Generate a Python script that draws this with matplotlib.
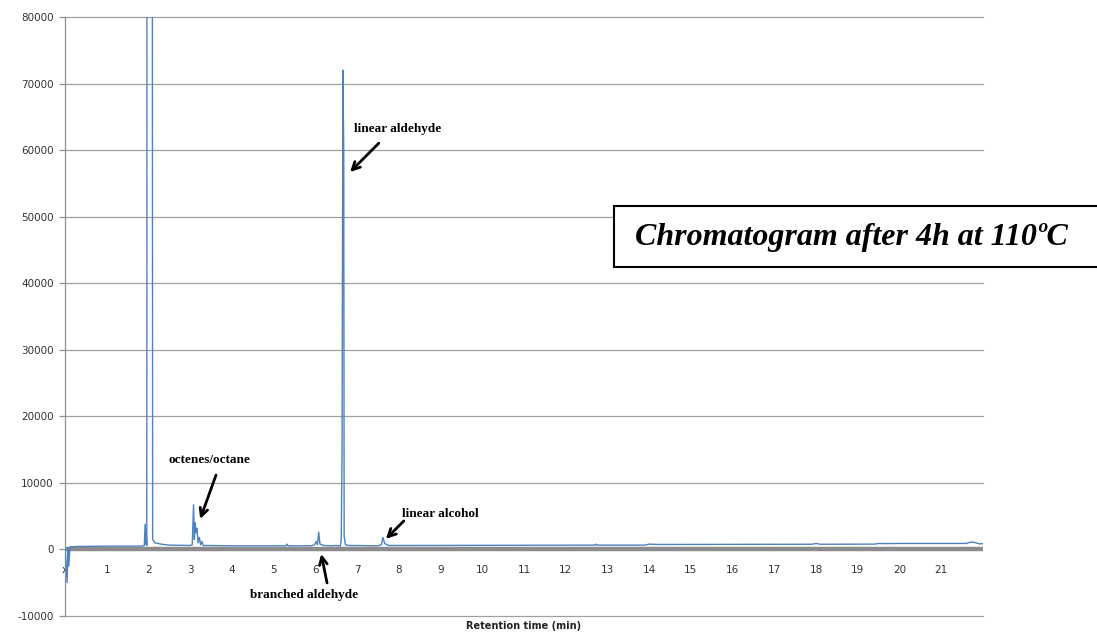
import matplotlib
matplotlib.use("Agg")
import matplotlib.pyplot as plt
from matplotlib.patches import Rectangle

plt.rcParams["axes.unicode_minus"] = False

# Detector signal (retention time in min, intensity in counts)
time_min = [0.0, 0.02, 0.05, 0.07, 0.09, 0.12, 0.3, 1.0, 1.8, 1.9, 1.92, 1.935, 1.945, 1.96,
            1.97, 2.085, 2.10, 2.15, 2.3, 2.5, 3.0, 3.05, 3.08, 3.10, 3.12, 3.14, 3.16,
            3.19, 3.22, 3.25, 3.28, 3.31, 4.0, 5.3, 5.32, 5.35, 5.9, 5.98, 6.02, 6.05,
            6.08, 6.11, 6.2, 6.4, 6.5, 6.6, 6.62, 6.64, 6.66, 6.68, 6.69, 6.72, 6.8,
            7.5, 7.58, 7.62, 7.66, 7.75, 8.5, 12.7, 12.72, 12.75, 13.9, 14.0, 14.2,
            17.9, 18.0, 18.1, 19.4, 19.5, 19.7, 20.0, 21.6, 21.7, 21.8, 21.9, 22.0]
signal = [0, -1500, -5000, 200, -2500, 400, 450, 500, 500, 550, 3800, 800, 3000, 600,
          200000, 200000, 1500, 1000, 800, 650, 600, 700, 6700, 1500, 4000, 2500, 3200,
          1000, 1800, 700, 1200, 600, 550, 550, 800, 550, 550, 700, 1200, 700,
          2600, 800, 600, 550, 600, 500, 1500, 15000, 72000, 60000, 2000, 700, 600,
          550, 700, 1800, 900, 600, 600, 650, 800, 650, 650, 800, 750,
          780, 900, 780, 800, 900, 880, 900, 900, 1100, 1050, 850, 850]

x_ticks = list(range(0, 22))
x_tick_labels = ["x"] + [str(i) for i in range(1, 22)]
y_ticks = list(range(-10000, 80001, 10000))

# Peak labels: (text, text position, arrow tip, arrow tail)
peak_labels = [
    ("octenes/octane", (3.47, 13440), (3.24, 4580), (3.62, 11190)),
    ("linear aldehyde", (7.98, 63160), (6.83, 56700), (7.52, 61040)),
    ("linear alcohol", (8.99, 5330), (7.69, 1580), (8.12, 4280)),
    ("branched aldehyde", (5.73, -6830), (6.14, -680), (6.28, -5030)),
]

W, H = 1097, 633
fig = plt.figure(figsize=(W / 100, H / 100), dpi=100)
ax = fig.add_axes([65 / W, 1 - 616 / H, (983 - 65) / W, (616 - 17) / H])

ax.plot(time_min, signal, color="#4f81bd", lw=1.0, zorder=3)

ax.set_xlim(0, 22)
ax.set_ylim(-10000, 80000)

# Horizontal gridlines
for yv in y_ticks:
    if yv != 0:
        ax.axhline(yv, color="#a0a0a0", lw=0.9, zorder=1, clip_on=False)

ax.spines["top"].set_visible(False)
ax.spines["right"].set_visible(False)
ax.spines["left"].set_color("#909090")
ax.spines["left"].set_linewidth(0.9)
ax.spines["bottom"].set_position(("data", 0))
ax.spines["bottom"].set_color("#8c8c8c")
ax.spines["bottom"].set_linewidth(3.2)
ax.spines["bottom"].set_capstyle("butt")
ax.spines["bottom"].set_zorder(2)

ax.set_xticks(x_ticks)
ax.set_xticklabels(x_tick_labels)
ax.set_yticks(y_ticks)
ax.tick_params(axis="x", length=0, pad=11, labelsize=7.5, labelcolor="#333333")
ax.tick_params(axis="y", length=4, width=0.9, color="#909090", pad=4,
               labelsize=7.5, labelcolor="#333333")

fig.text(524 / W, 1 - 626 / H, "Retention time (min)", ha="center", va="center",
         fontsize=7, fontweight="bold", color="#222222")

for text, tpos, tip, tail in peak_labels:
    ax.text(tpos[0], tpos[1], text, ha="center", va="center",
            family="Liberation Serif", fontweight="bold", fontsize=9.5, color="black")
    ax.annotate("", xy=tip, xytext=tail,
                arrowprops=dict(arrowstyle="->", lw=2.0, color="black",
                                mutation_scale=14, shrinkA=0, shrinkB=0))

# Caption box
fig.patches.append(Rectangle((614 / W, 1 - 267 / H), (1120 - 614) / W, (267 - 206) / H,
                             transform=fig.transFigure, facecolor="white",
                             edgecolor="black", lw=1.5, zorder=5))
fig.text(635 / W, 1 - 237 / H, "Chromatogram after 4h at 110ºC", ha="left", va="center",
         family="Liberation Serif", fontweight="bold", fontstyle="italic",
         fontsize=23, color="black", zorder=6)

fig.savefig("out.png", dpi=100)
